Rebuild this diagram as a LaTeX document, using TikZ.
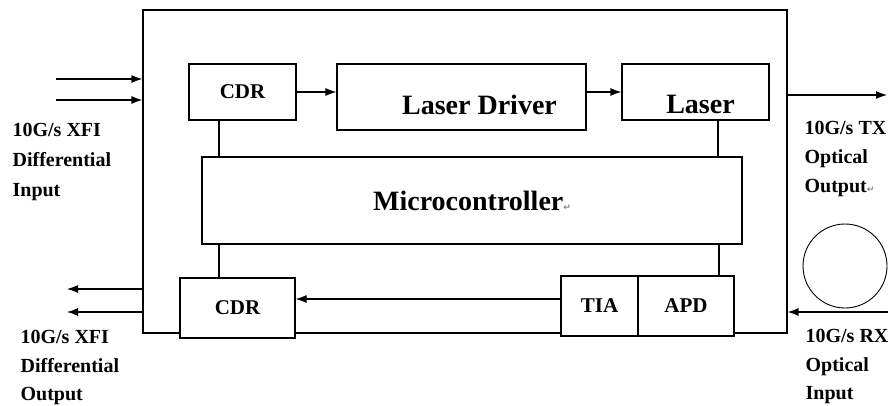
\documentclass[tikz,border=0pt]{standalone}
\usepackage{fontspec}
\setmainfont{Liberation Serif}
\newfontfamily\symfont{DejaVu Sans}
\usetikzlibrary{arrows.meta, positioning, shapes.geometric}

\newcommand{\parmark}{{\symfont\fontsize{9}{9}\selectfont\color{gray}\char"21B5}}

\begin{document}
\begin{tikzpicture}[x=1pt,y=-1pt,line width=1.2pt,
    >={Latex[length=11pt,width=8pt]},
    blk/.style={rectangle,draw,fill=white,inner sep=0pt,font=\bfseries\fontsize{21}{23}\selectfont},
    big/.style={font=\bfseries\fontsize{28}{30}\selectfont},
    lbl/.style={anchor=north west,align=left,inner sep=0pt,font=\bfseries\fontsize{20}{30}\selectfont}]
    \useasboundingbox (0,0) rectangle (888,406);
    % module outline
    \node[rectangle,draw,minimum width=644pt,minimum height=323pt] (module) at (465,171.5) {};
    % transmit path
    \node[blk,minimum width=107pt,minimum height=56pt] (cdrtx) at (242.5,92) {CDR};
    \node[blk,minimum width=249pt,minimum height=66pt,label={[big,xshift=18pt,yshift=-8pt]center:Laser Driver}] (driver) at (461.5,97) {};
    \node[blk,minimum width=147pt,minimum height=56pt,label={[big,xshift=5pt,yshift=-12pt]center:Laser}] (laser) at (695.5,92) {};
    \node[blk,big,minimum width=540pt,minimum height=87pt] (micro) at (472,200.5) {Microcontroller\parmark};
    % receive path
    \node[blk,minimum width=115pt,minimum height=60pt] (cdrrx) at (237.5,308) {CDR};
    \node[blk,minimum width=77pt,minimum height=60pt] (tia) at (599.5,306) {TIA};
    \node[blk,minimum width=96pt,minimum height=60pt] (apd) at (686,306) {APD};
    \node[circle,draw,line width=0.9pt,minimum size=84pt,inner sep=0pt] (fiber) at (845,266) {};

    \draw[->] (cdrtx.east) -- (cdrtx.east -| driver.west);
    \draw[->] (laser.west -| driver.east) -- (laser.west);
    \draw ([xshift=-23.5pt]cdrtx.south) -- ([xshift=-23.5pt]cdrtx.south |- micro.north);
    \draw ([xshift=22.5pt]laser.south) -- ([xshift=22.5pt]laser.south |- micro.north);
    \draw ([xshift=-18.5pt]cdrrx.north) -- ([xshift=-18.5pt]cdrrx.north |- micro.south);
    \draw ([xshift=33pt]apd.north) -- ([xshift=33pt]apd.north |- micro.south);
    \draw[->] ([yshift=7pt]tia.west) -- ([yshift=7pt]tia.west -| cdrrx.east);

    % external ports
    \coordinate (in1) at (56,79);
    \coordinate (in2) at (56,100);
    \coordinate (out1) at (67,289);
    \coordinate (out2) at (67,312);
    \coordinate (tx) at (887,95);
    \coordinate (rx) at (888,312);
    \draw[->] (in1) -- (in1 -| module.west);
    \draw[->] (in2) -- (in2 -| module.west);
    \draw[->] (out1 -| module.west) -- (out1);
    \draw[->] (out2 -| module.west) -- (out2);
    \draw[->] (tx -| module.east) -- (tx);
    \draw[->] (rx) -- (rx -| module.east);

    \node[lbl] (lblin) at (12,123) {10G/s XFI\\Differential\\Input};
    \node[lbl,font=\bfseries\fontsize{20}{29}\selectfont] (lbltx) at (804,121) {10G/s TX\\Optical\\Output\parmark};
    \node[lbl,font=\bfseries\fontsize{20}{28.5}\selectfont] (lblout) at (20,330) {10G/s XFI\\Differential\\Output};
    \node[lbl,font=\bfseries\fontsize{20}{28.5}\selectfont] (lblrx) at (805,329) {10G/s RX\\Optical\\Input};
\end{tikzpicture}
\end{document}
